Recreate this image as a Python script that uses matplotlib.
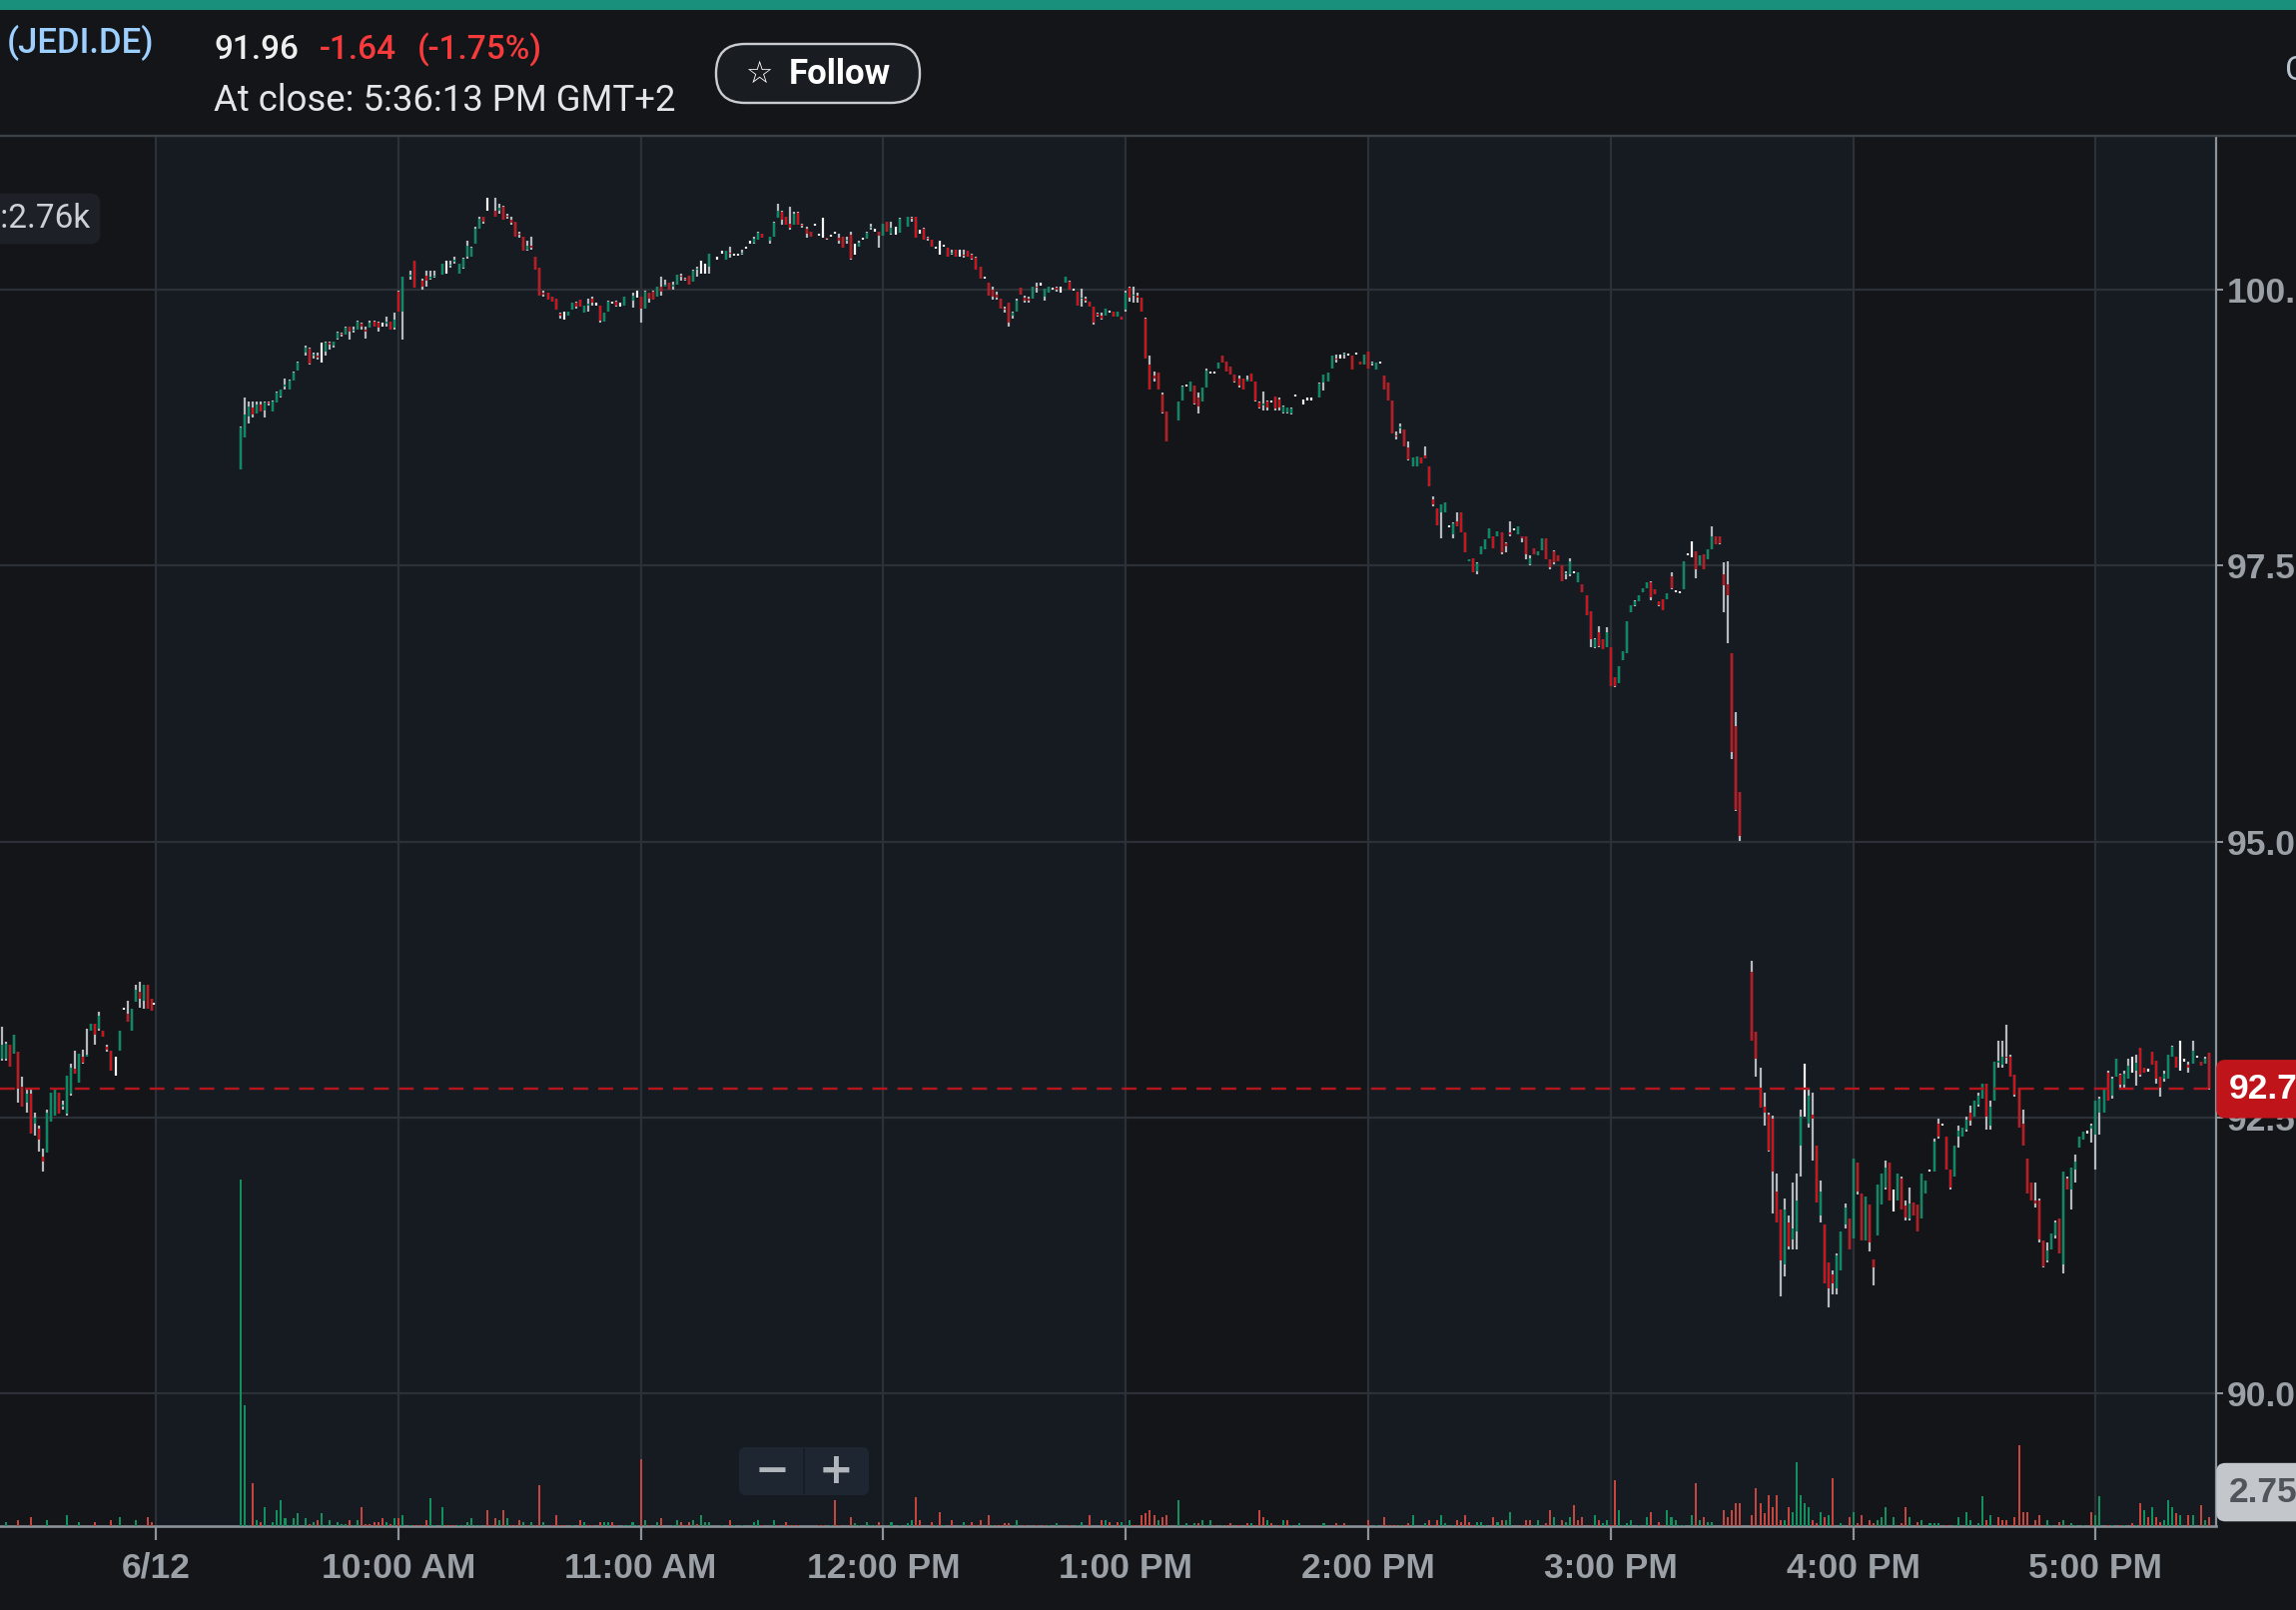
import matplotlib
matplotlib.use("Agg")
import matplotlib.pyplot as plt
import matplotlib.transforms as mtransforms
from matplotlib.patches import FancyBboxPatch, Rectangle

# ------------------------------------------------------------------ data
symbol = "(JEDI.DE)"
last_price = "91.96"
change_abs = "-1.64"
change_pct = "(-1.75%)"
close_note = "At close: 5:36:13 PM GMT+2"
current_price = 92.76
current_label = "92.76"
volume_header = "Vol:2.76k"
last_volume = 2750
last_volume_label = "2.75k"

tick_minutes = [0, 60, 120, 180, 240, 300, 360, 420, 480]          # minutes after 9:00
tick_labels = ["6/12", "10:00 AM", "11:00 AM", "12:00 PM", "1:00 PM",
               "2:00 PM", "3:00 PM", "4:00 PM", "5:00 PM"]
price_ticks = [90.0, 92.5, 95.0, 97.5, 100.0]
x_range = (-38.55, 509.8)
price_range = (88.80, 101.385)
volume_top = 112700
lit_spans = [(0, 240), (300, 420), (480, 509.8)]

# candles: (minute after 9:00 on 6/12, open, high, low, close)
bars_prev = [
    (-38, 93.03, 93.32, 93.02, 93.16), (-37, 93.03, 93.19, 93.02, 93.17),
    (-36, 93.16, 93.16, 92.96, 92.96), (-35, 93.08, 93.25, 93.08, 93.25),
    (-34, 93.10, 93.10, 92.64, 92.76), (-33, 92.78, 92.87, 92.60, 92.60),
    (-32, 92.64, 92.76, 92.55, 92.72), (-31, 92.72, 92.76, 92.36, 92.36),
    (-30, 92.45, 92.55, 92.34, 92.50), (-29, 92.40, 92.43, 92.19, 92.30),
    (-28, 92.15, 92.22, 92.01, 92.10), (-27, 92.18, 92.57, 92.18, 92.55),
    (-26, 92.46, 92.73, 92.46, 92.73), (-25, 92.52, 92.76, 92.52, 92.76),
    (-24, 92.73, 92.73, 92.54, 92.54), (-23, 92.60, 92.65, 92.57, 92.62),
    (-22, 92.54, 92.88, 92.52, 92.88), (-21, 92.72, 92.99, 92.70, 92.95),
    (-20, 92.94, 93.11, 92.90, 92.90), (-19, 92.82, 93.08, 92.82, 93.08),
    (-18, 93.05, 93.12, 92.99, 93.00), (-17, 93.05, 93.31, 93.05, 93.07),
    (-16, 93.29, 93.35, 93.29, 93.35), (-15, 93.35, 93.35, 93.16, 93.25),
    (-14, 93.31, 93.46, 93.29, 93.42), (-13, 93.29, 93.29, 93.23, 93.23),
    (-12, 93.14, 93.16, 93.10, 93.12), (-11, 93.11, 93.11, 92.93, 92.93),
    (-10, 92.96, 93.05, 92.88, 92.96), (-9, 93.11, 93.29, 93.11, 93.29),
    (-8, 93.49, 93.50, 93.48, 93.49), (-7, 93.44, 93.56, 93.37, 93.37),
    (-6, 93.29, 93.49, 93.29, 93.49), (-5, 93.55, 93.70, 93.55, 93.66),
    (-4, 93.64, 93.73, 93.50, 93.58), (-3, 93.56, 93.70, 93.49, 93.70),
    (-2, 93.70, 93.70, 93.49, 93.49), (-1, 93.58, 93.58, 93.47, 93.47),
    (-0.4, 93.53, 93.54, 93.52, 93.53),
]
bars_09 = [
    (21, 98.37, 98.76, 98.37, 98.75), (22, 98.66, 99.02, 98.66, 98.87),
    (23, 98.85, 98.99, 98.79, 98.94), (24, 98.93, 98.99, 98.84, 98.87),
    (25, 98.88, 98.99, 98.88, 98.96), (26, 98.96, 98.99, 98.90, 98.90),
    (27, 98.91, 98.99, 98.84, 98.98), (28, 98.98, 98.99, 98.95, 98.97),
    (29, 98.90, 99.00, 98.90, 98.99), (30, 98.98, 99.08, 98.98, 99.07),
    (31, 99.03, 99.10, 99.02, 99.10), (32, 99.12, 99.20, 99.10, 99.14),
    (33, 99.10, 99.19, 99.10, 99.18), (34, 99.18, 99.26, 99.18, 99.25),
    (35, 99.27, 99.35, 99.27, 99.34), (37, 99.43, 99.49, 99.40, 99.48),
    (38, 99.47, 99.48, 99.32, 99.33), (39, 99.40, 99.43, 99.38, 99.41),
    (40, 99.40, 99.43, 99.37, 99.39), (41, 99.45, 99.52, 99.34, 99.45),
    (42, 99.44, 99.53, 99.40, 99.52), (43, 99.52, 99.53, 99.46, 99.50),
    (44, 99.49, 99.53, 99.48, 99.53), (45, 99.56, 99.62, 99.55, 99.61),
    (46, 99.60, 99.61, 99.58, 99.59), (47, 99.59, 99.67, 99.59, 99.66),
    (48, 99.67, 99.67, 99.55, 99.62), (49, 99.63, 99.67, 99.61, 99.64),
    (50, 99.64, 99.72, 99.64, 99.71), (51, 99.69, 99.70, 99.64, 99.67),
    (52, 99.64, 99.67, 99.56, 99.62), (53, 99.66, 99.72, 99.66, 99.70),
    (54, 99.71, 99.72, 99.67, 99.67), (55, 99.70, 99.71, 99.62, 99.66),
    (56, 99.68, 99.70, 99.67, 99.68), (57, 99.69, 99.76, 99.67, 99.71),
    (58, 99.71, 99.71, 99.64, 99.64), (59, 99.66, 99.79, 99.64, 99.73),
]
bars_10 = [
    (60, 99.98, 99.99, 99.80, 99.80), (61, 99.80, 100.12, 99.55, 100.12),
    (63, 100.12, 100.17, 100.09, 100.14), (64, 100.26, 100.26, 100.02, 100.02),
    (66, 100.08, 100.10, 100.00, 100.03), (67, 100.13, 100.17, 100.03, 100.08),
    (68, 100.10, 100.17, 100.09, 100.12), (69, 100.12, 100.17, 100.11, 100.13),
    (71, 100.14, 100.24, 100.14, 100.24), (72, 100.20, 100.26, 100.15, 100.20),
    (73, 100.22, 100.26, 100.20, 100.23), (74, 100.25, 100.30, 100.24, 100.27),
    (75, 100.15, 100.24, 100.15, 100.24), (76, 100.20, 100.29, 100.19, 100.28),
    (77, 100.30, 100.44, 100.28, 100.40), (78, 100.30, 100.39, 100.30, 100.38),
    (79, 100.42, 100.57, 100.42, 100.55), (80, 100.55, 100.66, 100.55, 100.64),
    (81, 100.66, 100.66, 100.60, 100.62), (82, 100.78, 100.83, 100.72, 100.78),
    (84, 100.72, 100.83, 100.66, 100.66), (85, 100.72, 100.78, 100.69, 100.74),
    (86, 100.75, 100.76, 100.63, 100.63), (87, 100.67, 100.69, 100.64, 100.66),
    (88, 100.63, 100.66, 100.59, 100.61), (89, 100.62, 100.62, 100.48, 100.48),
    (90, 100.51, 100.53, 100.47, 100.50), (91, 100.48, 100.48, 100.35, 100.35),
    (92, 100.36, 100.44, 100.35, 100.40), (93, 100.40, 100.48, 100.36, 100.38),
    (94, 100.30, 100.30, 100.18, 100.18), (95, 100.20, 100.20, 99.95, 99.95),
    (96, 99.97, 99.99, 99.94, 99.96), (97, 99.97, 99.97, 99.91, 99.91),
    (98, 99.94, 99.94, 99.89, 99.89), (99, 99.92, 99.92, 99.82, 99.82),
    (100, 99.78, 99.79, 99.74, 99.77), (101, 99.78, 99.80, 99.73, 99.78),
    (102, 99.77, 99.80, 99.77, 99.80), (103, 99.82, 99.88, 99.82, 99.88),
    (104, 99.88, 99.89, 99.83, 99.85), (105, 99.91, 99.91, 99.85, 99.85),
    (106, 99.79, 99.86, 99.79, 99.86), (107, 99.86, 99.92, 99.80, 99.87),
    (108, 99.92, 99.94, 99.86, 99.88), (109, 99.87, 99.88, 99.86, 99.87),
    (110, 99.86, 99.86, 99.70, 99.72), (111, 99.71, 99.79, 99.71, 99.79),
    (112, 99.80, 99.90, 99.80, 99.89), (113, 99.88, 99.89, 99.87, 99.88),
    (114, 99.89, 99.90, 99.85, 99.86), (115, 99.87, 99.88, 99.85, 99.87),
    (116, 99.86, 99.94, 99.86, 99.94), (118, 99.90, 99.97, 99.84, 99.95),
    (119, 99.97, 99.99, 99.93, 99.97),
]
bars_11 = [
    (120, 99.94, 99.94, 99.70, 99.83), (121, 99.83, 99.99, 99.83, 99.98),
    (122, 99.97, 99.97, 99.88, 99.92), (123, 99.98, 99.99, 99.91, 99.91),
    (124, 99.94, 100.03, 99.94, 100.03), (125, 100.03, 100.12, 99.95, 99.98),
    (126, 100.03, 100.09, 100.03, 100.05), (127, 100.06, 100.06, 100.00, 100.00),
    (128, 100.03, 100.07, 100.00, 100.05), (129, 100.05, 100.14, 100.05, 100.14),
    (130, 100.13, 100.15, 100.08, 100.12), (131, 100.10, 100.11, 100.08, 100.09),
    (132, 100.13, 100.13, 100.05, 100.05), (133, 100.07, 100.18, 100.07, 100.17),
    (134, 100.18, 100.21, 100.12, 100.19), (135, 100.20, 100.26, 100.15, 100.20),
    (136, 100.22, 100.24, 100.15, 100.22), (137, 100.21, 100.33, 100.15, 100.33),
    (139, 100.28, 100.30, 100.27, 100.28), (140, 100.34, 100.35, 100.33, 100.34),
    (141, 100.27, 100.35, 100.27, 100.35), (142, 100.34, 100.39, 100.29, 100.33),
    (143, 100.32, 100.33, 100.31, 100.32), (144, 100.32, 100.33, 100.31, 100.32),
    (145, 100.33, 100.36, 100.32, 100.34), (146, 100.38, 100.39, 100.37, 100.38),
    (147, 100.43, 100.44, 100.42, 100.43), (148, 100.43, 100.48, 100.42, 100.46),
    (149, 100.45, 100.53, 100.45, 100.52), (150, 100.51, 100.51, 100.47, 100.47),
    (152, 100.44, 100.48, 100.42, 100.48), (153, 100.48, 100.62, 100.48, 100.61),
    (154, 100.65, 100.78, 100.65, 100.72), (155, 100.71, 100.72, 100.59, 100.63),
    (156, 100.66, 100.66, 100.59, 100.59), (157, 100.60, 100.75, 100.54, 100.56),
    (158, 100.59, 100.71, 100.59, 100.69), (159, 100.70, 100.71, 100.59, 100.59),
    (160, 100.59, 100.60, 100.56, 100.58), (161, 100.55, 100.57, 100.47, 100.51),
    (162, 100.53, 100.53, 100.48, 100.48), (163, 100.59, 100.60, 100.58, 100.59),
    (164, 100.50, 100.51, 100.49, 100.50), (165, 100.50, 100.65, 100.47, 100.50),
    (166, 100.47, 100.47, 100.45, 100.46), (167, 100.49, 100.50, 100.48, 100.49),
    (168, 100.52, 100.53, 100.51, 100.52), (169, 100.47, 100.51, 100.42, 100.44),
    (170, 100.48, 100.48, 100.38, 100.38), (171, 100.44, 100.48, 100.42, 100.45),
    (172, 100.50, 100.53, 100.27, 100.28), (173, 100.38, 100.42, 100.32, 100.38),
    (174, 100.39, 100.44, 100.39, 100.43), (175, 100.46, 100.47, 100.45, 100.46),
    (176, 100.46, 100.53, 100.46, 100.52), (177, 100.56, 100.60, 100.54, 100.57),
    (178, 100.54, 100.55, 100.53, 100.54), (179, 100.53, 100.53, 100.38, 100.49),
]
bars_12 = [
    (180, 100.49, 100.60, 100.49, 100.60), (181, 100.62, 100.62, 100.53, 100.53),
    (182, 100.51, 100.62, 100.50, 100.56), (183, 100.55, 100.57, 100.50, 100.55),
    (184, 100.52, 100.65, 100.52, 100.64), (186, 100.57, 100.66, 100.57, 100.66),
    (187, 100.65, 100.66, 100.62, 100.64), (188, 100.66, 100.66, 100.47, 100.47),
    (189, 100.52, 100.54, 100.51, 100.52), (190, 100.55, 100.56, 100.45, 100.45),
    (191, 100.47, 100.48, 100.44, 100.46), (192, 100.45, 100.45, 100.39, 100.39),
    (193, 100.38, 100.39, 100.37, 100.38), (194, 100.40, 100.44, 100.32, 100.40),
    (195, 100.40, 100.41, 100.39, 100.40), (196, 100.38, 100.38, 100.30, 100.30),
    (197, 100.33, 100.36, 100.32, 100.34), (198, 100.36, 100.36, 100.30, 100.30),
    (199, 100.33, 100.36, 100.30, 100.33), (200, 100.32, 100.36, 100.29, 100.31),
    (201, 100.35, 100.35, 100.30, 100.30), (202, 100.32, 100.33, 100.27, 100.28),
    (203, 100.29, 100.30, 100.18, 100.18), (204, 100.21, 100.21, 100.10, 100.10),
    (205, 100.11, 100.12, 100.10, 100.11), (206, 100.06, 100.06, 99.95, 99.95),
    (207, 100.00, 100.03, 99.91, 99.94), (208, 99.96, 99.98, 99.91, 99.93),
    (209, 99.92, 99.92, 99.83, 99.83), (210, 99.83, 99.85, 99.79, 99.82),
    (211, 99.88, 99.88, 99.67, 99.70), (212, 99.77, 99.80, 99.74, 99.79),
    (213, 99.80, 99.92, 99.80, 99.90), (214, 100.02, 100.02, 99.96, 99.96),
    (215, 99.93, 99.95, 99.88, 99.90), (216, 99.92, 99.94, 99.88, 99.90),
    (217, 99.92, 100.03, 99.92, 100.03), (218, 100.03, 100.06, 99.97, 100.02),
    (219, 100.05, 100.06, 100.04, 100.05), (220, 99.94, 100.01, 99.90, 100.01),
    (221, 99.97, 100.03, 99.97, 100.03), (222, 100.01, 100.02, 100.00, 100.01),
    (223, 100.02, 100.03, 99.98, 100.00), (224, 100.00, 100.03, 99.97, 100.00),
    (225, 100.06, 100.12, 100.06, 100.12), (226, 100.07, 100.08, 100.00, 100.00),
    (227, 100.00, 100.01, 99.99, 100.00), (228, 99.98, 99.98, 99.86, 99.86),
    (229, 99.92, 100.01, 99.85, 99.93), (230, 99.92, 99.94, 99.88, 99.90),
    (231, 99.89, 99.89, 99.85, 99.85), (232, 99.85, 99.85, 99.68, 99.70),
    (233, 99.78, 99.79, 99.76, 99.77), (234, 99.77, 99.79, 99.73, 99.74),
    (235, 99.77, 99.83, 99.77, 99.83), (236, 99.80, 99.80, 99.79, 99.80),
    (237, 99.80, 99.80, 99.76, 99.76), (238, 99.76, 99.80, 99.76, 99.80),
    (239, 99.76, 99.76, 99.73, 99.73),
]
bars_13 = [
    (240, 99.82, 99.99, 99.80, 99.97), (241, 100.02, 100.03, 99.89, 99.93),
    (242, 99.95, 100.03, 99.88, 99.96), (243, 99.95, 99.97, 99.88, 99.93),
    (244, 99.93, 99.93, 99.80, 99.80), (245, 99.74, 99.75, 99.38, 99.38),
    (246, 99.32, 99.40, 99.10, 99.10), (247, 99.22, 99.26, 99.17, 99.20),
    (248, 99.25, 99.25, 99.10, 99.10), (249, 99.05, 99.07, 98.88, 98.89),
    (250, 98.90, 98.90, 98.63, 98.63), (253, 98.82, 98.99, 98.82, 98.99),
    (254, 99.00, 99.13, 99.00, 99.12), (255, 99.13, 99.14, 99.12, 99.13),
    (256, 99.08, 99.17, 99.08, 99.17), (257, 99.13, 99.13, 98.96, 98.97),
    (258, 99.02, 99.07, 98.88, 98.94), (259, 98.99, 99.11, 98.99, 99.11),
    (260, 99.11, 99.29, 99.11, 99.27), (261, 99.25, 99.26, 99.24, 99.25),
    (262, 99.25, 99.26, 99.24, 99.25), (263, 99.29, 99.34, 99.29, 99.34),
    (264, 99.40, 99.40, 99.34, 99.34), (265, 99.35, 99.35, 99.26, 99.26),
    (266, 99.30, 99.30, 99.23, 99.23), (267, 99.23, 99.23, 99.16, 99.17),
    (268, 99.20, 99.22, 99.11, 99.13), (269, 99.20, 99.20, 99.10, 99.10),
    (270, 99.17, 99.22, 99.17, 99.19), (271, 99.24, 99.24, 99.17, 99.17),
    (272, 99.17, 99.17, 98.99, 99.00), (273, 98.98, 98.99, 98.92, 98.93),
    (274, 98.95, 99.08, 98.91, 98.97), (275, 98.99, 99.00, 98.91, 98.93),
    (276, 98.99, 99.00, 98.98, 98.99), (277, 99.03, 99.03, 98.91, 98.92),
    (278, 99.01, 99.02, 98.91, 98.93), (279, 98.89, 98.95, 98.88, 98.94),
    (280, 98.89, 98.93, 98.88, 98.93), (281, 98.88, 98.93, 98.87, 98.92),
    (282, 99.04, 99.05, 99.03, 99.04), (284, 98.99, 99.01, 98.96, 98.99),
    (285, 99.01, 99.02, 99.00, 99.01), (286, 99.01, 99.02, 99.00, 99.01),
    (288, 99.02, 99.16, 99.02, 99.15), (289, 99.16, 99.23, 99.09, 99.23),
    (290, 99.17, 99.25, 99.17, 99.25), (291, 99.29, 99.40, 99.29, 99.40),
    (292, 99.38, 99.41, 99.34, 99.37), (293, 99.40, 99.41, 99.38, 99.40),
    (294, 99.41, 99.43, 99.38, 99.42), (295, 99.41, 99.42, 99.40, 99.41),
    (296, 99.40, 99.40, 99.28, 99.28), (297, 99.42, 99.43, 99.41, 99.42),
    (298, 99.35, 99.35, 99.32, 99.32), (299, 99.32, 99.41, 99.32, 99.41),
]
bars_14 = [
    (300, 99.44, 99.44, 99.29, 99.29), (301, 99.33, 99.35, 99.31, 99.34),
    (302, 99.28, 99.34, 99.28, 99.34), (303, 99.34, 99.35, 99.33, 99.34),
    (304, 99.22, 99.22, 99.10, 99.10), (305, 99.16, 99.16, 99.00, 99.00),
    (306, 99.00, 99.00, 98.70, 98.70), (307, 98.68, 98.72, 98.64, 98.67),
    (308, 98.74, 98.79, 98.70, 98.76), (309, 98.73, 98.73, 98.58, 98.58),
    (310, 98.57, 98.63, 98.45, 98.46), (311, 98.40, 98.48, 98.40, 98.48),
    (312, 98.40, 98.49, 98.40, 98.49), (313, 98.48, 98.48, 98.43, 98.43),
    (314, 98.50, 98.58, 98.47, 98.47), (315, 98.40, 98.40, 98.22, 98.22),
    (316, 98.10, 98.13, 98.04, 98.06), (317, 98.02, 98.02, 97.87, 97.87),
    (318, 97.98, 98.06, 97.75, 98.06), (319, 97.98, 98.07, 97.98, 98.07),
    (320, 97.86, 97.87, 97.85, 97.86), (321, 97.78, 97.89, 97.75, 97.88),
    (322, 97.90, 97.98, 97.86, 97.86), (323, 97.98, 97.98, 97.80, 97.80),
    (324, 97.80, 97.80, 97.62, 97.62), (325, 97.54, 97.56, 97.54, 97.56),
    (326, 97.57, 97.57, 97.44, 97.44), (327, 97.45, 97.53, 97.42, 97.52),
    (328, 97.60, 97.68, 97.60, 97.68), (329, 97.65, 97.74, 97.65, 97.74),
    (330, 97.75, 97.84, 97.75, 97.84), (331, 97.77, 97.77, 97.66, 97.66),
    (332, 97.77, 97.81, 97.77, 97.81), (333, 97.80, 97.80, 97.60, 97.62),
    (334, 97.70, 97.71, 97.62, 97.68), (335, 97.80, 97.90, 97.77, 97.78),
    (336, 97.83, 97.84, 97.82, 97.83), (337, 97.78, 97.86, 97.78, 97.86),
    (338, 97.77, 97.77, 97.71, 97.75), (339, 97.77, 97.77, 97.56, 97.60),
    (340, 97.51, 97.59, 97.50, 97.57), (341, 97.66, 97.66, 97.60, 97.60),
    (342, 97.59, 97.63, 97.59, 97.63), (343, 97.64, 97.75, 97.64, 97.75),
    (344, 97.75, 97.75, 97.56, 97.56), (345, 97.56, 97.56, 97.47, 97.49),
    (346, 97.63, 97.64, 97.51, 97.53), (347, 97.59, 97.59, 97.54, 97.54),
    (348, 97.50, 97.50, 97.36, 97.36), (349, 97.42, 97.45, 97.38, 97.43),
    (350, 97.42, 97.57, 97.40, 97.54), (351, 97.44, 97.45, 97.43, 97.44),
    (352, 97.35, 97.44, 97.35, 97.44), (353, 97.33, 97.33, 97.26, 97.26),
    (354, 97.23, 97.23, 97.05, 97.05), (355, 97.09, 97.09, 96.76, 96.83),
    (356, 96.76, 96.84, 96.75, 96.83), (357, 96.90, 96.95, 96.76, 96.77),
    (358, 96.83, 96.83, 96.74, 96.74), (359, 96.76, 96.94, 96.76, 96.90),
]
bars_15 = [
    (360, 96.76, 96.76, 96.41, 96.41), (361, 96.49, 96.49, 96.40, 96.41),
    (362, 96.44, 96.59, 96.44, 96.59), (363, 96.64, 96.73, 96.64, 96.73),
    (364, 96.71, 97.00, 96.71, 97.00), (365, 97.08, 97.14, 97.08, 97.14),
    (366, 97.14, 97.19, 97.13, 97.18), (367, 97.18, 97.23, 97.18, 97.23),
    (368, 97.26, 97.30, 97.26, 97.30), (369, 97.30, 97.35, 97.30, 97.35),
    (370, 97.35, 97.36, 97.19, 97.21), (371, 97.29, 97.29, 97.24, 97.24),
    (372, 97.18, 97.18, 97.13, 97.14), (373, 97.20, 97.20, 97.10, 97.10),
    (374, 97.20, 97.25, 97.20, 97.25), (375, 97.40, 97.44, 97.29, 97.30),
    (376, 97.27, 97.28, 97.26, 97.27), (377, 97.26, 97.27, 97.25, 97.26),
    (378, 97.29, 97.54, 97.29, 97.54), (379, 97.60, 97.61, 97.59, 97.60),
    (380, 97.65, 97.72, 97.58, 97.65), (381, 97.63, 97.63, 97.39, 97.47),
    (382, 97.50, 97.59, 97.50, 97.59), (383, 97.60, 97.60, 97.47, 97.47),
    (384, 97.56, 97.65, 97.56, 97.65), (385, 97.65, 97.86, 97.65, 97.77),
    (386, 97.77, 97.77, 97.69, 97.69), (387, 97.77, 97.77, 97.69, 97.70),
    (388, 97.42, 97.53, 97.08, 97.32), (389, 97.33, 97.54, 96.80, 97.23),
    (390, 96.71, 96.71, 95.75, 95.81), (391, 96.05, 96.17, 95.28, 95.29),
    (392, 95.45, 95.45, 95.01, 95.05), (395, 93.82, 93.92, 93.20, 93.20),
    (396, 93.28, 93.28, 92.87, 93.03), (397, 92.77, 92.95, 92.59, 92.59),
    (398, 92.60, 92.73, 92.43, 92.55), (399, 92.53, 92.55, 92.19, 92.20),
    (400, 92.49, 92.52, 91.63, 92.01), (401, 91.83, 91.99, 91.55, 91.55),
    (402, 91.67, 91.67, 90.88, 91.21), (403, 91.17, 91.77, 91.06, 91.67),
    (404, 91.55, 91.61, 91.31, 91.33), (405, 91.40, 91.91, 91.31, 91.50),
    (406, 91.47, 91.99, 91.31, 91.75), (407, 92.25, 92.57, 91.97, 92.51),
    (408, 92.74, 92.99, 92.51, 92.74), (409, 92.45, 92.77, 92.41, 92.70),
    (410, 92.53, 92.73, 92.11, 92.49), (411, 92.25, 92.25, 91.73, 91.73),
    (412, 91.61, 91.93, 91.55, 91.83), (413, 91.53, 91.53, 91.00, 91.00),
    (414, 91.19, 91.19, 90.78, 90.95), (415, 91.08, 91.12, 90.90, 91.00),
    (416, 90.95, 91.27, 90.90, 91.25), (417, 91.12, 91.47, 91.12, 91.47),
    (418, 91.53, 91.72, 91.50, 91.69), (419, 91.59, 91.59, 91.31, 91.31),
]
bars_16 = [
    (420, 91.41, 92.13, 91.41, 92.13), (421, 92.09, 92.09, 91.80, 91.83),
    (422, 91.81, 91.81, 91.39, 91.39), (423, 91.39, 91.79, 91.39, 91.79),
    (424, 91.71, 91.71, 91.29, 91.37), (425, 91.22, 91.22, 90.98, 91.14),
    (426, 91.43, 91.89, 91.43, 91.89), (427, 91.71, 91.99, 91.71, 91.99),
    (428, 91.87, 92.11, 91.85, 92.05), (429, 92.09, 92.09, 91.75, 91.75),
    (430, 91.72, 91.85, 91.65, 91.72), (431, 91.75, 91.99, 91.75, 91.99),
    (432, 91.95, 91.97, 91.67, 91.67), (433, 91.70, 91.75, 91.57, 91.60),
    (434, 91.59, 91.87, 91.57, 91.72), (435, 91.73, 91.73, 91.61, 91.61),
    (436, 91.71, 91.71, 91.47, 91.47), (437, 91.59, 91.99, 91.59, 91.99),
    (438, 91.81, 91.93, 91.81, 91.93), (439, 92.02, 92.03, 92.01, 92.02),
    (440, 92.01, 92.31, 92.01, 92.28), (441, 92.45, 92.49, 92.31, 92.33),
    (442, 92.44, 92.45, 92.43, 92.44), (443, 92.33, 92.33, 92.03, 92.03),
    (444, 92.03, 92.03, 91.85, 91.87), (445, 91.97, 92.25, 91.97, 92.25),
    (446, 92.33, 92.43, 92.23, 92.38), (447, 92.33, 92.41, 92.33, 92.41),
    (448, 92.39, 92.51, 92.37, 92.48), (449, 92.55, 92.61, 92.43, 92.47),
    (450, 92.51, 92.65, 92.51, 92.65), (451, 92.62, 92.73, 92.60, 92.70),
    (452, 92.67, 92.81, 92.67, 92.81), (453, 92.81, 92.81, 92.39, 92.51),
    (454, 92.43, 92.65, 92.39, 92.60), (455, 92.65, 93.01, 92.65, 93.01),
    (456, 93.00, 93.20, 92.95, 93.02), (457, 92.98, 93.20, 92.95, 93.05),
    (458, 93.05, 93.34, 92.99, 93.04), (459, 93.05, 93.07, 92.87, 92.87),
    (460, 92.89, 92.89, 92.69, 92.71), (461, 92.77, 92.77, 92.41, 92.41),
    (462, 92.45, 92.57, 92.25, 92.25), (463, 92.13, 92.13, 91.81, 91.81),
    (464, 91.91, 91.91, 91.75, 91.75), (465, 91.75, 91.91, 91.69, 91.72),
    (466, 91.75, 91.77, 91.37, 91.40), (467, 91.39, 91.39, 91.14, 91.15),
    (468, 91.21, 91.37, 91.19, 91.30), (469, 91.31, 91.45, 91.31, 91.45),
    (470, 91.43, 91.57, 91.41, 91.55), (471, 91.59, 91.59, 91.27, 91.27),
    (472, 91.17, 92.01, 91.09, 92.01), (473, 91.95, 91.97, 91.85, 91.85),
    (474, 91.85, 92.05, 91.67, 92.05), (475, 92.03, 92.17, 91.91, 92.10),
    (476, 92.23, 92.33, 92.23, 92.33), (477, 92.30, 92.37, 92.30, 92.37),
    (478, 92.37, 92.38, 92.36, 92.37), (479, 92.40, 92.45, 92.27, 92.43),
]
bars_17 = [
    (480, 92.35, 92.65, 92.03, 92.65), (481, 92.55, 92.69, 92.35, 92.67),
    (482, 92.55, 92.77, 92.55, 92.77), (483, 92.91, 92.93, 92.65, 92.65),
    (484, 92.70, 92.87, 92.67, 92.85), (485, 92.87, 93.03, 92.87, 93.03),
    (486, 92.89, 92.90, 92.77, 92.80), (487, 92.80, 92.93, 92.77, 92.90),
    (488, 92.85, 93.03, 92.85, 92.97), (489, 92.98, 93.05, 92.91, 92.98),
    (490, 92.93, 93.07, 92.79, 93.00), (491, 93.13, 93.13, 92.87, 92.89),
    (492, 92.95, 92.95, 92.91, 92.91), (493, 92.93, 92.94, 92.92, 92.93),
    (494, 93.10, 93.10, 92.98, 92.98), (495, 93.02, 93.02, 92.81, 92.85),
    (496, 92.87, 92.87, 92.69, 92.77), (497, 92.85, 92.93, 92.83, 92.90),
    (498, 92.85, 93.07, 92.85, 93.07), (499, 93.05, 93.15, 93.05, 93.14),
    (500, 93.05, 93.05, 92.95, 92.95), (501, 93.00, 93.20, 92.93, 93.00),
    (502, 93.02, 93.03, 93.01, 93.02), (503, 92.98, 93.01, 92.91, 92.95),
    (504, 92.99, 93.20, 92.99, 93.11), (505, 93.05, 93.06, 93.04, 93.05),
    (506, 93.01, 93.01, 92.97, 92.97), (507, 92.99, 93.05, 92.99, 93.03),
    (508, 93.09, 93.09, 92.75, 92.76),
]

# volume: (minute, shares, direction)
vol_prev = [(-37, 300, 'g'), (-34, 490, 'r'), (-31, 700, 'r'), (-27, 490, 'g'),
            (-22, 890, 'g'), (-19, 300, 'g'), (-15, 300, 'r'), (-11, 490, 'r'),
            (-9, 700, 'g'), (-5, 490, 'g'), (-2, 700, 'r'), (-1, 300, 'r')]
vol_09 = [(21, 28100, 'g'), (22, 9800, 'g'), (23, 80, 'g'), (24, 3500, 'r'), (25, 490, 'g'),
          (26, 300, 'r'), (27, 1500, 'g'), (29, 300, 'g'), (30, 1300, 'g'), (31, 2100, 'g'),
          (32, 680, 'g'), (33, 80, 'g'), (34, 680, 'g'), (35, 1080, 'g'), (37, 680, 'g'),
          (38, 150, 'r'), (39, 300, 'g'), (40, 490, 'r'), (41, 1080, 'g'), (42, 80, 'g'),
          (43, 490, 'g'), (45, 300, 'g'), (46, 130, 'g'), (47, 130, 'g'), (48, 490, 'r'),
          (49, 80, 'g'), (50, 490, 'g'), (51, 1500, 'r'), (52, 130, 'r'), (53, 130, 'r'),
          (54, 300, 'r'), (55, 300, 'r'), (56, 680, 'r'), (57, 300, 'g'), (58, 130, 'r'),
          (59, 680, 'g')]
vol_10 = [(60, 680, 'r'), (61, 890, 'g'), (63, 80, 'g'), (64, 80, 'r'), (65, 80, 'r'),
          (66, 80, 'r'), (67, 490, 'r'), (68, 2300, 'g'), (69, 80, 'g'), (71, 1500, 'g'),
          (72, 80, 'r'), (73, 80, 'r'), (74, 80, 'r'), (75, 80, 'g'), (76, 80, 'g'),
          (77, 300, 'g'), (78, 680, 'g'), (79, 80, 'g'), (80, 80, 'g'), (82, 1300, 'r'),
          (83, 80, 'r'), (84, 680, 'r'), (85, 490, 'g'), (86, 1300, 'r'), (87, 680, 'g'),
          (88, 80, 'r'), (89, 80, 'r'), (90, 490, 'r'), (91, 300, 'g'), (92, 80, 'r'),
          (93, 300, 'g'), (94, 80, 'r'), (95, 3300, 'r'), (96, 300, 'g'), (98, 80, 'r'),
          (99, 890, 'r'), (100, 80, 'r'), (101, 80, 'r'), (103, 80, 'g'), (105, 490, 'r'),
          (106, 300, 'g'), (107, 80, 'r'), (108, 80, 'r'), (110, 300, 'r'), (111, 300, 'g'),
          (112, 300, 'g'), (113, 300, 'r'), (114, 80, 'r'), (116, 80, 'g'), (117, 80, 'g'),
          (118, 300, 'g'), (119, 80, 'g')]
vol_11 = [(120, 5400, 'r'), (121, 490, 'g'), (122, 80, 'r'), (124, 300, 'g'), (125, 680, 'r'),
          (128, 80, 'g'), (129, 490, 'g'), (130, 300, 'r'), (131, 80, 'r'), (132, 300, 'r'),
          (133, 490, 'g'), (134, 150, 'r'), (135, 890, 'g'), (136, 300, 'g'), (137, 300, 'g'),
          (140, 80, 'g'), (142, 490, 'r'), (143, 80, 'g'), (145, 80, 'g'), (148, 300, 'g'),
          (149, 490, 'g'), (150, 80, 'r'), (153, 490, 'g'), (154, 80, 'r'), (156, 300, 'r'),
          (157, 80, 'r'), (158, 80, 'r'), (159, 80, 'r'), (164, 80, 'r'), (165, 80, 'r'),
          (167, 80, 'g'), (168, 2100, 'r'), (169, 80, 'r'), (172, 700, 'r'), (173, 270, 'g'),
          (174, 80, 'g'), (176, 300, 'g'), (177, 80, 'g'), (178, 80, 'g'), (179, 300, 'r')]
vol_12 = [(182, 300, 'g'), (184, 80, 'g'), (186, 270, 'g'), (187, 490, 'g'), (188, 2380, 'r'),
          (189, 490, 'r'), (192, 300, 'r'), (193, 80, 'g'), (194, 1100, 'r'), (195, 80, 'g'),
          (197, 490, 'r'), (200, 300, 'g'), (201, 80, 'r'), (202, 300, 'r'), (203, 80, 'r'),
          (204, 490, 'r'), (206, 890, 'r'), (207, 80, 'g'), (208, 80, 'r'), (209, 80, 'r'),
          (210, 270, 'r'), (211, 270, 'r'), (212, 80, 'g'), (213, 490, 'g'), (215, 80, 'r'),
          (218, 80, 'r'), (220, 80, 'r'), (221, 80, 'g'), (223, 270, 'g'), (226, 80, 'r'),
          (228, 80, 'g'), (229, 300, 'g'), (231, 890, 'r'), (234, 490, 'r'), (235, 490, 'g'),
          (236, 300, 'r'), (238, 300, 'r'), (239, 300, 'g')]
vol_13 = [(241, 490, 'g'), (242, 80, 'r'), (243, 80, 'r'), (244, 890, 'r'), (245, 1080, 'r'),
          (246, 1300, 'r'), (247, 890, 'r'), (248, 490, 'g'), (249, 700, 'r'), (250, 890, 'r'),
          (253, 2100, 'g'), (255, 270, 'g'), (257, 270, 'g'), (258, 270, 'r'), (259, 490, 'g'),
          (260, 80, 'g'), (261, 490, 'g'), (262, 80, 'r'), (264, 80, 'g'), (265, 80, 'r'),
          (266, 270, 'r'), (268, 80, 'r'), (270, 270, 'r'), (271, 270, 'g'), (272, 80, 'r'),
          (273, 1300, 'r'), (274, 700, 'r'), (275, 490, 'g'), (276, 270, 'r'), (278, 80, 'r'),
          (279, 490, 'g'), (280, 490, 'r'), (281, 80, 'g'), (283, 270, 'g'), (289, 270, 'g'),
          (292, 270, 'r'), (294, 270, 'r')]
vol_14 = [(300, 490, 'r'), (302, 80, 'g'), (304, 700, 'r'), (305, 80, 'r'), (306, 80, 'r'),
          (307, 80, 'r'), (308, 80, 'g'), (309, 80, 'r'), (310, 270, 'r'), (311, 890, 'g'),
          (314, 270, 'g'), (315, 490, 'r'), (316, 80, 'r'), (317, 490, 'r'), (318, 890, 'g'),
          (319, 270, 'g'), (321, 80, 'g'), (322, 490, 'r'), (323, 300, 'r'), (324, 890, 'r'),
          (325, 300, 'r'), (326, 80, 'r'), (327, 300, 'g'), (328, 300, 'g'), (329, 80, 'g'),
          (331, 700, 'r'), (332, 300, 'g'), (333, 490, 'r'), (334, 490, 'g'), (335, 1100, 'g'),
          (338, 80, 'r'), (339, 490, 'r'), (340, 490, 'r'), (341, 80, 'g'), (342, 490, 'g'),
          (344, 270, 'r'), (345, 1300, 'r'), (346, 700, 'g'), (348, 490, 'r'), (349, 300, 'g'),
          (350, 700, 'g'), (351, 1700, 'r'), (352, 490, 'r'), (353, 700, 'r'), (355, 80, 'r'),
          (356, 890, 'g'), (357, 490, 'r'), (358, 270, 'g'), (359, 490, 'g')]
vol_15 = [(360, 80, 'r'), (361, 3700, 'r'), (362, 1300, 'g'), (363, 80, 'g'), (364, 270, 'g'),
          (365, 490, 'g'), (367, 80, 'g'), (369, 700, 'g'), (370, 1100, 'r'), (372, 300, 'r'),
          (373, 80, 'r'), (374, 1300, 'g'), (375, 700, 'g'), (376, 490, 'g'), (377, 80, 'g'),
          (378, 80, 'g'), (380, 890, 'g'), (381, 3500, 'r'), (382, 490, 'g'), (383, 700, 'r'),
          (384, 300, 'g'), (385, 300, 'g'), (388, 1300, 'r'), (389, 700, 'r'), (390, 1300, 'r'),
          (391, 1900, 'r'), (392, 1900, 'r'), (395, 890, 'r'), (396, 3100, 'r'), (397, 1900, 'r'),
          (398, 1080, 'r'), (399, 2500, 'r'), (400, 1500, 'r'), (401, 2500, 'r'), (402, 490, 'r'),
          (403, 490, 'g'), (404, 1500, 'r'), (405, 1100, 'g'), (406, 5200, 'g'), (407, 2500, 'g'),
          (408, 1900, 'g'), (409, 1500, 'g'), (410, 490, 'r'), (411, 270, 'r'), (412, 1100, 'g'),
          (413, 700, 'r'), (414, 890, 'g'), (415, 3900, 'r'), (417, 270, 'g'), (419, 700, 'r')]
vol_16 = [(420, 1100, 'g'), (421, 270, 'r'), (422, 890, 'r'), (424, 490, 'r'), (425, 270, 'r'),
          (426, 490, 'g'), (427, 700, 'g'), (428, 1500, 'g'), (430, 700, 'g'), (432, 270, 'r'),
          (433, 1500, 'r'), (434, 700, 'g'), (436, 300, 'r'), (437, 490, 'g'), (439, 270, 'g'),
          (440, 270, 'g'), (441, 270, 'g'), (443, 80, 'r'), (445, 80, 'g'), (446, 700, 'g'),
          (448, 1100, 'g'), (449, 490, 'g'), (451, 270, 'g'), (452, 2400, 'g'), (453, 490, 'r'),
          (454, 890, 'g'), (456, 700, 'r'), (457, 490, 'r'), (458, 490, 'r'), (459, 80, 'r'),
          (460, 700, 'r'), (461, 6600, 'r'), (462, 1100, 'r'), (463, 1100, 'r'), (464, 80, 'r'),
          (465, 490, 'r'), (466, 890, 'r'), (467, 80, 'r'), (468, 490, 'g'), (469, 80, 'g'),
          (471, 300, 'r'), (472, 490, 'g'), (473, 80, 'r'), (474, 270, 'g'), (475, 80, 'g'),
          (477, 80, 'g'), (479, 1100, 'r')]
vol_17 = [(480, 890, 'g'), (481, 2400, 'g'), (483, 80, 'r'), (484, 80, 'g'), (486, 80, 'r'),
          (487, 80, 'g'), (489, 270, 'r'), (490, 80, 'g'), (491, 1900, 'r'), (492, 1300, 'g'),
          (493, 700, 'r'), (494, 1500, 'g'), (495, 700, 'r'), (496, 300, 'r'), (497, 490, 'g'),
          (498, 2100, 'g'), (499, 1500, 'g'), (500, 1080, 'r'), (501, 890, 'g'), (503, 890, 'r'),
          (504, 890, 'g'), (506, 1700, 'r'), (507, 490, 'g'), (508, 700, 'r')]

# ------------------------------------------------------------------ style
BG_DARK = "#131519"
BG_LIT = "#161b22"
GRID = "#2b3137"
AXIS = "#8d939a"
TICK_TXT = "#9aa0a6"
UP = "#0b8a66"
DOWN = "#cc141c"
WICK = "#b5b9be"
DOJI = "#f4f4f4"
VOL_UP = "#14905f"
VOL_DOWN = "#c4463e"
PX = 0.72  # points per pixel at dpi 100
AXFONT = ["Liberation Sans", "DejaVu Sans"]
HDR = ["Roboto", "DejaVu Sans"]

W, H = 2299, 1612
fig = plt.figure(figsize=(W / 100, H / 100), dpi=100, facecolor=BG_DARK)

ax_left, ax_right, ax_top, ax_bottom = 0, 2219, 137, 1528
ax = fig.add_axes([ax_left / W, 1 - ax_bottom / H, (ax_right - ax_left) / W, (ax_bottom - ax_top) / H])
ax.set_facecolor(BG_DARK)
ax.set_xlim(*x_range)
ax.set_ylim(*price_range)

# volume axis (created first: twinx moves the host's y ticks to the left)
ax2 = ax.twinx()
ax2.set_ylim(0, volume_top)
ax2.yaxis.set_visible(False)
for s in ax2.spines.values():
    s.set_visible(False)

for a, b in lit_spans:
    ax.axvspan(a, b, color=BG_LIT, lw=0, zorder=0)

# axes, ticks, grid
ax.yaxis.tick_right()
ax.set_xticks(tick_minutes, labels=tick_labels, family=AXFONT, fontweight="bold",
              fontsize=25.5, color=TICK_TXT)
ax.set_yticks(price_ticks, labels=[f"{v:.2f}" for v in price_ticks], family=AXFONT,
              fontweight="bold", fontsize=25.5, color=TICK_TXT)
ax.tick_params(axis="y", left=False, labelleft=False, right=True, labelright=True,
               direction="out", length=7 * PX, width=2.0 * PX, color=AXIS, pad=4 * PX)
ax.tick_params(axis="x", direction="out", length=14 * PX, width=2.2 * PX, color=AXIS, pad=8.5)
ax.grid(True, color=GRID, lw=2.2 * PX)
ax.set_axisbelow(True)

for s in ["top", "left"]:
    ax.spines[s].set_visible(False)
ax.spines["right"].set_color(AXIS)
ax.spines["right"].set_linewidth(2.2 * PX)
ax.spines["bottom"].set_color(AXIS)
ax.spines["bottom"].set_linewidth(2.6 * PX)
ax.spines["bottom"].set_zorder(6)

# candles
bars = (bars_prev + bars_09 + bars_10 + bars_11 + bars_12 + bars_13 + bars_14 + bars_15
        + bars_16 + bars_17)
mins = [b[0] for b in bars]
o = [b[1] for b in bars]
h = [b[2] for b in bars]
l = [b[3] for b in bars]
c = [b[4] for b in bars]
lw = 2.2 * PX
up_idx = [i for i in range(len(bars)) if c[i] > o[i]]
dn_idx = [i for i in range(len(bars)) if c[i] < o[i]]
fl_idx = [i for i in range(len(bars)) if c[i] == o[i]]
moving = up_idx + dn_idx
ax.vlines([mins[i] for i in moving], [l[i] for i in moving], [h[i] for i in moving],
          color=WICK, lw=lw, zorder=3)
ax.vlines([mins[i] for i in up_idx], [o[i] for i in up_idx], [c[i] for i in up_idx],
          color=UP, lw=lw, zorder=4)
ax.vlines([mins[i] for i in dn_idx], [c[i] for i in dn_idx], [o[i] for i in dn_idx],
          color=DOWN, lw=lw, zorder=4)
ax.vlines([mins[i] for i in fl_idx], [min(l[i], c[i] - 0.01) for i in fl_idx],
          [max(h[i], c[i] + 0.01) for i in fl_idx], color=DOJI, lw=lw, zorder=4)

# current price line + label
ax.axhline(current_price, color="#b5161d", lw=2.4 * PX, linestyle=(0, (6.2, 4.2)), zorder=5)
blend = mtransforms.blended_transform_factory(ax.transAxes, ax.transData)
ax2.annotate(current_label, xy=(1, current_price), xycoords=blend, xytext=(13 * PX, 0),
             textcoords="offset points", ha="left", va="center", color="white",
             fontsize=25.5, fontweight="bold", family=AXFONT,
             annotation_clip=False, zorder=10,
             bbox=dict(boxstyle="round,pad=0.36,rounding_size=0.25", fc="#c0141b", ec="none"))

# volume bars
vols = vol_prev + vol_09 + vol_10 + vol_11 + vol_12 + vol_13 + vol_14 + vol_15 + vol_16 + vol_17
ax2.bar([v[0] for v in vols], [v[1] for v in vols], width=0.5, linewidth=0,
        color=[VOL_UP if v[2] == 'g' else VOL_DOWN for v in vols], zorder=2)
blend2 = mtransforms.blended_transform_factory(ax2.transAxes, ax2.transData)
ax2.annotate(last_volume_label, xy=(1, last_volume), xycoords=blend2, xytext=(13 * PX, 0),
             textcoords="offset points", ha="left", va="center", color="#50555b",
             fontsize=25.5, fontweight="bold", family=AXFONT,
             annotation_clip=False, zorder=10,
             bbox=dict(boxstyle="round,pad=0.36,rounding_size=0.25", fc="#c3c7cc", ec="none"))

# ------------------------------------------------------------------ header / overlay (pixel coords)
ov = fig.add_axes([0, 0, 1, 1], zorder=20)
ov.set_xlim(0, W)
ov.set_ylim(H, 0)
ov.axis("off")
ov.patch.set_visible(False)

ov.add_patch(Rectangle((0, 0), W, 10, color="#19907b", lw=0))
ov.plot([0, W], [ax_top - 1, ax_top - 1], color="#3a4046", lw=2.4 * PX, solid_capstyle="butt")

ov.text(7, 43, symbol, color="#9dcfff", fontsize=25, family=HDR, weight="medium",
        ha="left", va="center")
ov.text(214, 50, last_price, color="#eeeeee", fontsize=24, family=HDR, weight="medium",
        ha="left", va="center")
ov.text(320, 50, change_abs, color="#f53b3b", fontsize=24, family=HDR, weight="medium",
        ha="left", va="center")
ov.text(418, 50, change_pct, color="#f53b3b", fontsize=24, family=HDR, weight="medium",
        ha="left", va="center")
ov.text(214, 101, close_note, color="#e3e5e8", fontsize=26.3, family=HDR, weight="normal",
        ha="left", va="center")

ov.add_patch(FancyBboxPatch((717, 44), 204, 59, boxstyle="round,pad=0,rounding_size=29",
                            fc="#191c20", ec="#c9cdd2", lw=2.4 * PX))
ov.text(760, 74, "\u2606", color="white", fontsize=22, family=["DejaVu Sans"],
        ha="center", va="center")
ov.text(790, 74, "Follow", color="white", fontsize=25, family=HDR, weight="bold",
        ha="left", va="center")
ov.text(2288, 71, "Compare", color="#b8c4d0", fontsize=24, family=HDR, ha="left", va="center")

# volume header tag
ov.text(91, 219, volume_header, color="#cdd1d5", fontsize=24, family=HDR, ha="right",
        va="center", bbox=dict(boxstyle="round,pad=0.28,rounding_size=0.3", fc="#1d2127", ec="none"))

# zoom buttons
ov.add_patch(FancyBboxPatch((740, 1449), 130, 48, boxstyle="round,pad=0,rounding_size=7",
                            fc="#1e2731", ec="none"))
ov.plot([805, 805], [1451, 1495], color="#161e26", lw=2 * PX)
ov.text(773, 1473, "\u2212", color="#b0b6bc", fontsize=30, family=["DejaVu Sans"], weight="bold",
        ha="center", va="center")
ov.text(837, 1473, "+", color="#b0b6bc", fontsize=30, family=["DejaVu Sans"], weight="bold",
        ha="center", va="center")

fig.savefig("out.png", dpi=100, facecolor=BG_DARK)
